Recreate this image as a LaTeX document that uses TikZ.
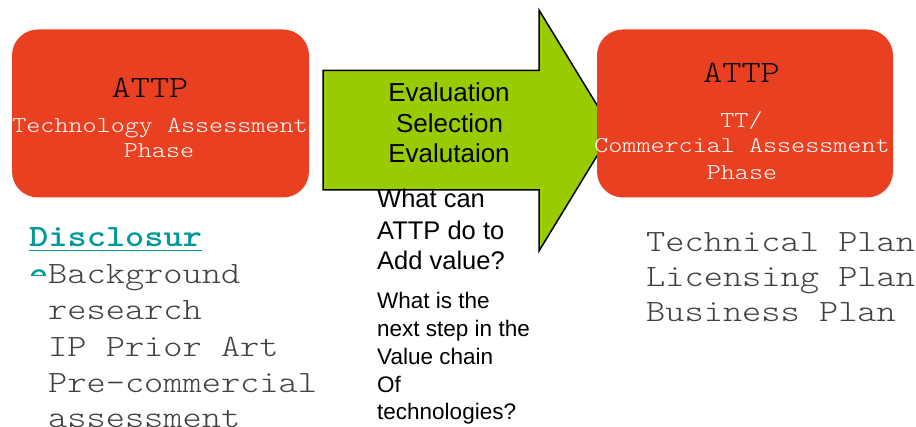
\documentclass[tikz,border=0pt]{standalone}
\usepackage{fontspec}
\usepackage{graphicx}
\setmainfont{Liberation Sans}
\newfontfamily\cour{lmmonolt10-regular.otf}[BoldFont=lmmonolt10-bold.otf]
\newcommand\cstretch[1]{\scalebox{1.18}[1]{#1}}
\definecolor{boxred}{RGB}{233,64,34}
\definecolor{arrowgreen}{RGB}{153,204,0}
\definecolor{discteal}{RGB}{0,153,153}
\definecolor{plaingray}{RGB}{64,64,64}
\begin{document}
\begin{tikzpicture}[x=1pt,y=-1pt,
  phasebox/.style={fill=boxred,draw=none,rounded corners=26pt,minimum width=297pt,minimum height=168pt,inner sep=0pt},
  bigattp/.style={anchor=base,inner sep=0pt,font=\cour\fontsize{31}{38}\selectfont,text=black},
  phasetxt/.style={anchor=base,inner sep=0pt,font=\cour\fontsize{22.7}{28}\selectfont,text=white},
  arrowtxt/.style={anchor=base,inner sep=0pt,font=\fontsize{26}{31}\selectfont,text=black},
  qone/.style={anchor=base west,inner sep=0pt,font=\fontsize{25.5}{31}\selectfont,text=black},
  qtwo/.style={anchor=base west,inner sep=0pt,font=\fontsize{22.5}{28}\selectfont,text=black},
  listtxt/.style={anchor=base west,inner sep=0pt,font=\cour\fontsize{31}{36}\selectfont,text=plaingray},
  disctxt/.style={anchor=base west,inner sep=0pt,font=\cour\bfseries\fontsize{31}{36}\selectfont,text=discteal},
  blockarrow/.style={fill=arrowgreen,draw=black,line width=1.5pt,line join=miter}
]
\useasboundingbox (0,0) rectangle (916,427);

% left box
\node[phasebox] (lbox) at (160.5,113.5) {};
\node[bigattp] (lattp) at (150,98) {\cstretch{ATTP}};
\node[phasetxt] (ltech) at (160,133) {\cstretch{Technology Assessment}};
\node[phasetxt] (lphase) at (159,158) {\cstretch{Phase}};

% block arrow
\draw[blockarrow] (323,70.5) -- (539,70.5) -- (539,10) -- (612.5,130.5) -- (539,251) -- (539,190) -- (323,190) -- cycle;

% right box
\node[phasebox,minimum width=296pt] (rbox) at (745,113.5) {};
\node[bigattp] (rattp) at (741.5,83) {\cstretch{ATTP}};
\node[phasetxt] (rtt) at (741.5,128) {\cstretch{TT/}};
\node[phasetxt] (rcomm) at (742,153) {\cstretch{Commercial Assessment}};
\node[phasetxt] (rphase) at (742,180) {\cstretch{Phase}};

% arrow text
\node[arrowtxt] (ev1) at (449,102) {Evaluation};
\node[arrowtxt] (sel) at (449.5,133) {Selection};
\node[arrowtxt] (ev2) at (449,163) {Evalutaion};

% questions
\node[qone] (q1) at (377,208) {What can};
\node[qone] (q2) at (377,240) {ATTP do to};
\node[qone] (q3) at (377,270) {Add value?};
\node[qtwo] (q4) at (377,309) {What is the};
\node[qtwo] (q5) at (377,337) {next step in the};
\node[qtwo] (q6) at (377,365) {Value chain};
\node[qtwo] (q7) at (377,393) {Of};
\node[qtwo] (q8) at (377,420) {technologies?};

% left list
\node[disctxt] (disc) at (29,247) {\cstretch{Disclosur}};
\draw[discteal,line width=1.2pt] ([yshift=-3.5pt]disc.base west) -- ([yshift=-3.5pt]disc.base east);
\begin{scope}
  \clip (20,262) rectangle (75,276);
  \node[disctxt] (disce) at (29,284) {\cstretch{e}};
\end{scope}
\node[listtxt] (l1) at (48,284) {\cstretch{Background}};
\node[listtxt] (l2) at (48,320) {\cstretch{research}};
\node[listtxt] (l3) at (48,357) {\cstretch{IP Prior Art}};
\node[listtxt] (l4) at (48,393) {\cstretch{Pre-commercial}};
\node[listtxt] (l5) at (48,428) {\cstretch{assessment}};

% right list
\node[listtxt] (p1) at (646,252) {\cstretch{Technical Plan}};
\node[listtxt] (p2) at (646,287) {\cstretch{Licensing Plan}};
\node[listtxt] (p3) at (646,322) {\cstretch{Business Plan}};
\end{tikzpicture}
\end{document}
